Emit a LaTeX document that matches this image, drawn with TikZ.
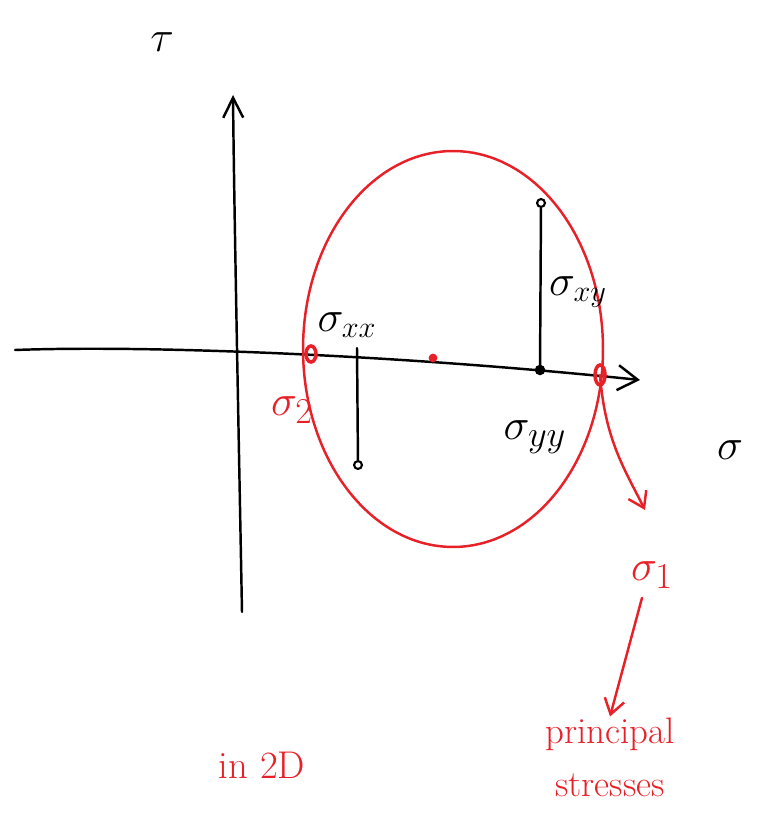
\documentclass[tikz,border=0pt]{standalone}
\usetikzlibrary{calc, positioning}
\usetikzlibrary{arrows.meta}
\definecolor{penred}{RGB}{232,32,40}

\begin{document}
\begin{tikzpicture}[x=0.02cm, y=-0.02cm, line width=1.4pt, line cap=round,
  lbl/.style={inner sep=0pt, font=\fontsize{24}{28}\selectfont},
  redlbl/.style={lbl, text=penred},
  pt/.style={draw, circle, inner sep=0pt, minimum size=4.5pt, line width=1.2pt}]
\useasboundingbox (0,0) rectangle (765,813);

\coordinate (xL) at (15,350);
\coordinate (xR) at (640,380);
\coordinate (yB) at (242,612);
\coordinate (yT) at (233,95);
\coordinate (C) at (453,349);
\coordinate (S2) at (311,354);
\coordinate (S1) at (600,375);
\coordinate (Axx) at (357,348);
\coordinate (Ayy) at (540,370);
\coordinate (tip1) at (645,510);

\draw[-{Straight Barb[length=4mm, width=5mm]}] (xL) .. controls (150,345) and (400,355) .. (xR);
\draw[-{Straight Barb[length=4mm, width=4mm]}] (yB) .. controls (238,400) and (234,200) .. (yT);

\node[lbl, font=\fontsize{38}{40}\selectfont] (tau) at (162,42) {$\tau$};
\node[lbl, font=\fontsize{34}{40}\selectfont] (sig) at (730,450) {$\sigma$};

\draw[penred] (C) ellipse [x radius=3cm, y radius=3.96cm];

\node[pt] (Pxx) at (358,465) {};
\node[pt] (Pyy) at (541,203) {};
\draw (Axx) -- (Pxx);
\draw (Ayy) -- (Pyy);
\fill (Ayy) circle (3pt);

\draw[penred, line width=2pt] (S2) ellipse [x radius=0.1cm, y radius=0.16cm];
\draw[penred, line width=2pt] (S1) ellipse [x radius=0.1cm, y radius=0.2cm];
\fill[penred] (433,358) circle (2.5pt);

\node[lbl] (lxx) at (347,325) {$\sigma_{xx}$};
\node[lbl] (lxy) at (578,292) {$\sigma_{xy}$};
\node[lbl, font=\fontsize{32}{36}\selectfont] (lyy) at (535,437) {$\sigma_{yy}$};
\node[redlbl, font=\fontsize{32}{36}\selectfont] (l2) at (292,410) {$\sigma_2$};
\node[redlbl, font=\fontsize{32}{36}\selectfont] (l1) at (652,575) {$\sigma_1$};

\node[redlbl, font=\fontsize{21}{30}\selectfont, align=center] (prin) at (610,757) {principal\\stresses};
\node[redlbl, font=\fontsize{22}{26}\selectfont] (twoD) at (262,765) {in 2D};

\draw[penred, -{Straight Barb[length=3mm, width=4mm]}] (S1) .. controls (605,440) and (625,470) .. (tip1);
\draw[penred, -{Straight Barb[length=3mm, width=4mm]}] (l1.south) ++(-10,8) -- (prin.north);
\end{tikzpicture}
\end{document}
